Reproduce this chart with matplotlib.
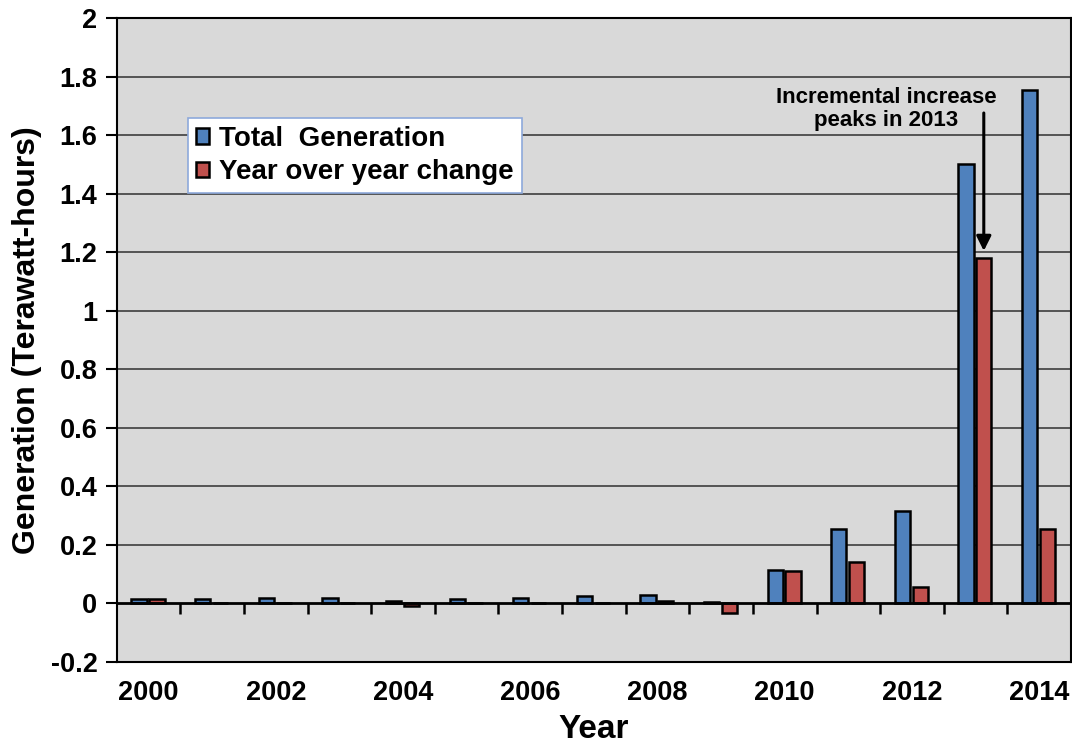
import numpy as np
import matplotlib.pyplot as plt

# data
years = [2000, 2001, 2002, 2003, 2004, 2005, 2006, 2007, 2008, 2009, 2010, 2011, 2012, 2013, 2014]
total_gen = [0.015, 0.015, 0.02, 0.02, 0.01, 0.015, 0.02, 0.025, 0.03, 0.004, 0.116, 0.255, 0.315, 1.50, 1.755]
yoy_change = [0.015, 0.003, 0.003, 0.003, -0.01, 0.003, 0.003, 0.003, 0.007, -0.033, 0.112, 0.141, 0.057, 1.18, 0.255]
year_labels = ['2000', '2002', '2004', '2006', '2008', '2010', '2012', '2014']

plt.rcParams['font.family'] = ['Liberation Sans', 'DejaVu Sans']
plt.rcParams['font.weight'] = 'bold'

fig = plt.figure(figsize=(10.72, 7.5), dpi=100)
ax = fig.add_axes([0.109, 0.1173, 0.89, 0.8587])
ax.set_facecolor('#d9d9d9')

x = np.arange(len(years))
w = 0.24
ax.bar(x - 0.15, total_gen, w, color='#4f81bd', edgecolor='black', linewidth=1.8,
       label='Total  Generation', zorder=3)
ax.bar(x + 0.13, yoy_change, w, color='#c0504d', edgecolor='black', linewidth=1.8,
       label='Year over year change', zorder=3)

ax.set_xlim(-0.5, len(years) - 0.5)
ax.set_ylim(-0.2, 2.0)

# y axis
yt = np.round(np.arange(-0.2, 2.01, 0.2), 1)
ax.set_yticks(yt)
ax.set_yticklabels(['0' if v == 0 else ('%g' % v) for v in yt], fontsize=19.5, fontweight='bold')
ax.tick_params(axis='y', direction='out', length=8, width=1.5, pad=6)
for v in yt[2:]:
    ax.axhline(v, color='#4a4a4a', linewidth=1.3, zorder=1)

# category axis at zero, tick marks between categories
ax.spines['bottom'].set_position(('data', 0))
ax.spines['bottom'].set_linewidth(2)
ax.spines['bottom'].set_zorder(4)
ax.set_xticks(np.arange(0.5, len(years) - 1, 1))
ax.set_xticklabels([])
ax.tick_params(axis='x', direction='out', length=8, width=1.8)
for s in ['left', 'top', 'right']:
    ax.spines[s].set_linewidth(1.5)

sec = ax.secondary_xaxis(0)
sec.set_xticks(x[::2])
sec.set_xticklabels(year_labels, fontsize=19.5, fontweight='bold')
sec.tick_params(length=0, pad=13)
sec.spines['bottom'].set_linewidth(1.5)

ax.set_ylabel('Generation (Terawatt-hours)', fontsize=23, fontweight='bold', labelpad=6)
sec.set_xlabel('Year', fontsize=24, fontweight='bold', labelpad=6)

leg = ax.legend(loc='upper left', bbox_to_anchor=(0.0744, 0.845), borderaxespad=0,
                fontsize=20, frameon=True, fancybox=False, handlelength=0.5,
                handleheight=0.5, handletextpad=0.35, borderpad=0.28, labelspacing=0.28)
leg.get_frame().set_edgecolor('#8ea9db')
leg.get_frame().set_linewidth(1.2)
leg.get_frame().set_facecolor('white')
leg.get_frame().set_alpha(1)
for t in leg.get_texts():
    t.set_fontweight('bold')

ax.annotate('', xy=(13.13, yoy_change[13] + 0.015), xytext=(13.13, 1.685),
            arrowprops=dict(arrowstyle='-|>', color='black', lw=2.2, mutation_scale=22), zorder=5)
ax.text(11.6, 1.69, 'Incremental increase\npeaks in 2013', ha='center', va='center',
        fontsize=16, fontweight='bold', linespacing=1.15, zorder=5)

fig.savefig('out.png', dpi=100)
